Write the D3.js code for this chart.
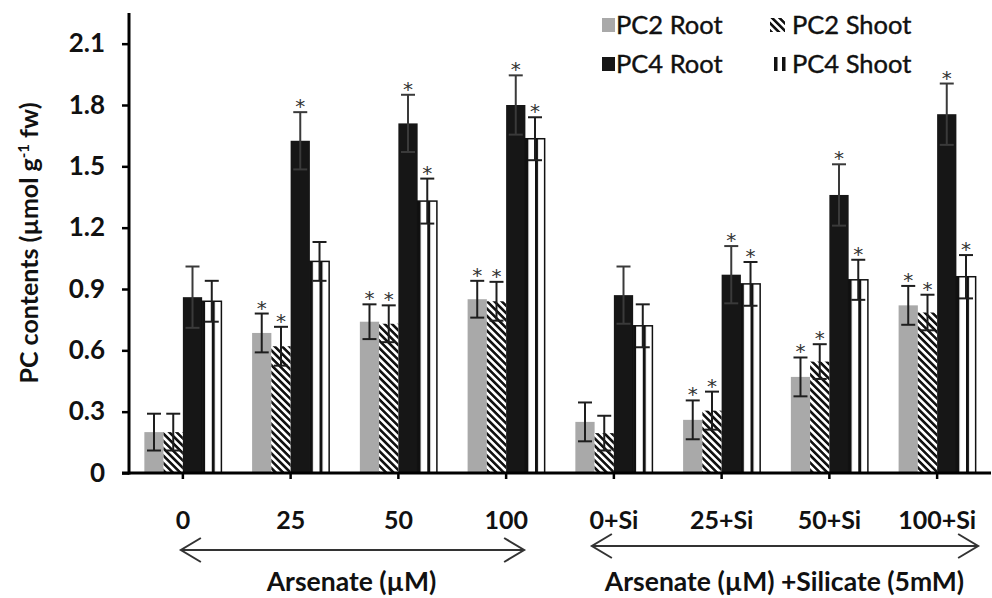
<!DOCTYPE html>
<html>
<head>
<meta charset="utf-8">
<script src="https://cdn.jsdelivr.net/npm/d3@7"></script>
<style>
  body { margin: 0; background: #fff; }
  svg { display: block; font-family: Lato, "Open Sans", sans-serif; }
</style>
</head>
<body>
<script>
// categories and series
const categories = ["0", "25", "50", "100", "0+Si", "25+Si", "50+Si", "100+Si"];
const series = ["PC2 Root", "PC2 Shoot", "PC4 Root", "PC4 Shoot"];

// mean values
const pc2Root  = [0.20, 0.685, 0.74, 0.85, 0.25, 0.26, 0.47, 0.82];
const pc2Shoot = [0.20, 0.62, 0.73, 0.84, 0.195, 0.305, 0.545, 0.785];
const pc4Root  = [0.86, 1.625, 1.71, 1.80, 0.87, 0.97, 1.36, 1.755];
const pc4Shoot = [0.84, 1.035, 1.33, 1.635, 0.72, 0.925, 0.945, 0.96];

// error bar half widths
const pc2RootErr  = [0.09, 0.095, 0.085, 0.09, 0.095, 0.095, 0.095, 0.095];
const pc2ShootErr = [0.09, 0.095, 0.09, 0.095, 0.085, 0.093, 0.085, 0.087];
const pc4RootErr  = [0.15, 0.14, 0.14, 0.145, 0.14, 0.14, 0.15, 0.15];
const pc4ShootErr = [0.10, 0.095, 0.11, 0.105, 0.105, 0.107, 0.098, 0.106];

// significance stars (1 = star)
const pc2RootStar  = [0, 1, 1, 1, 0, 1, 1, 1];
const pc2ShootStar = [0, 1, 1, 1, 0, 1, 1, 1];
const pc4RootStar  = [0, 1, 1, 1, 0, 1, 1, 1];
const pc4ShootStar = [0, 0, 1, 1, 0, 1, 1, 1];

const yTicks = [0, 0.3, 0.6, 0.9, 1.2, 1.5, 1.8, 2.1];

const means = [pc2Root, pc2Shoot, pc4Root, pc4Shoot];
const errs = [pc2RootErr, pc2ShootErr, pc4RootErr, pc4ShootErr];
const stars = [pc2RootStar, pc2ShootStar, pc4RootStar, pc4ShootStar];

const width = 992, height = 598;
const plotLeft = 129, plotRight = 991, plotTop = 13, plotBottom = 473;

const svg = d3.select("body").append("svg")
    .attr("width", width)
    .attr("height", height);

const defs = svg.append("defs");

// PC2 shoot: diagonal hatch
const hatch = defs.append("pattern")
    .attr("id", "hatch")
    .attr("patternUnits", "userSpaceOnUse")
    .attr("width", 5.2).attr("height", 5.2)
    .attr("patternTransform", "rotate(-45)");
hatch.append("rect").attr("width", 5.2).attr("height", 5.2).attr("fill", "#fff");
hatch.append("rect").attr("width", 2.6).attr("height", 5.2).attr("fill", "#111");

// PC4 shoot: wide vertical stripes
const vstripe = defs.append("pattern")
    .attr("id", "vstripe")
    .attr("patternUnits", "objectBoundingBox")
    .attr("width", 0.5).attr("height", 1);
vstripe.append("rect").attr("width", 40).attr("height", 1000).attr("fill", "#fff");
vstripe.append("rect").attr("width", 3).attr("height", 1000).attr("fill", "#111");

const fills = ["#a9a9a9", "url(#hatch)", "#161616", "url(#vstripe)"];

const x = d3.scaleBand()
    .domain(categories)
    .range([plotLeft, plotRight])
    .paddingInner(0.285)
    .paddingOuter(0.1425);

const x1 = d3.scaleBand()
    .domain(series)
    .range([0, x.bandwidth()]);

const y = d3.scaleLinear()
    .domain([0, 2.25])
    .range([plotBottom, plotTop]);

// bars
const rows = [];
categories.forEach((c, i) => {
    series.forEach((s, j) => {
        rows.push({ cat: c, ser: s, j: j, v: means[j][i], e: errs[j][i], star: stars[j][i] });
    });
});

const g = svg.append("g");

g.selectAll("rect.bar")
    .data(rows)
    .enter().append("rect")
    .attr("class", "bar")
    .attr("x", d => x(d.cat) + x1(d.ser))
    .attr("y", d => y(d.v))
    .attr("width", x1.bandwidth())
    .attr("height", d => y(0) - y(d.v))
    .attr("fill", d => fills[d.j])
    .attr("stroke", d => d.j === 3 ? "#111" : "none")
    .attr("stroke-width", 1.5);

// error bars
const capW = 14;
const eb = g.selectAll("g.err")
    .data(rows)
    .enter().append("g")
    .attr("class", "err")
    .attr("stroke", d => d.j === 2 ? "#3a3a3a" : "#1e1e1e")
    .attr("stroke-width", 2)
    .attr("transform", d => `translate(${x(d.cat) + x1(d.ser) + x1.bandwidth() / 2},0)`);

eb.append("line")
    .attr("y1", d => y(d.v - d.e))
    .attr("y2", d => y(d.v + d.e));
eb.append("line")
    .attr("x1", -capW / 2).attr("x2", capW / 2)
    .attr("y1", d => y(d.v + d.e)).attr("y2", d => y(d.v + d.e));
eb.append("line")
    .attr("x1", -capW / 2).attr("x2", capW / 2)
    .attr("y1", d => y(d.v - d.e)).attr("y2", d => y(d.v - d.e));

// stars
g.selectAll("text.star")
    .data(rows.filter(d => d.star))
    .enter().append("text")
    .attr("class", "star")
    .attr("x", d => x(d.cat) + x1(d.ser) + x1.bandwidth() / 2)
    .attr("y", d => y(d.v + d.e) + 1)
    .attr("text-anchor", "middle")
    .attr("font-family", "DejaVu Sans, sans-serif")
    .attr("font-size", 20)
    .attr("fill", "#333")
    .text("*");

// y axis
const yAxis = svg.append("g")
    .attr("transform", `translate(${plotLeft},0)`)
    .call(d3.axisLeft(y).tickValues(yTicks).tickSize(7)
        .tickFormat(d => d === 0 ? "0" : d.toFixed(1)));
yAxis.select(".domain").remove();
yAxis.append("line")
    .attr("y1", plotTop).attr("y2", plotBottom + 1.5)
    .attr("stroke", "#000").attr("stroke-width", 3);
yAxis.selectAll(".tick line").attr("stroke", "#000").attr("stroke-width", 2.5);
yAxis.selectAll(".tick text")
    .attr("x", -24)
    .attr("font-family", "Lato, sans-serif")
    .attr("font-weight", "bold")
    .attr("font-size", 26)
    .attr("fill", "#111");

// x axis
const xAxis = svg.append("g")
    .attr("transform", `translate(0,${plotBottom})`)
    .call(d3.axisBottom(x).tickSize(6).tickPadding(32));
xAxis.select(".domain").remove();
xAxis.append("line")
    .attr("x1", plotLeft - 7).attr("x2", plotRight)
    .attr("stroke", "#000").attr("stroke-width", 3);
xAxis.selectAll(".tick line").attr("stroke", "#000").attr("stroke-width", 2.5);
xAxis.selectAll(".tick text")
    .attr("font-family", "Lato, sans-serif")
    .attr("font-weight", "bold")
    .attr("font-size", 25)
    .attr("fill", "#111");

// y title
svg.append("text")
    .attr("transform", `translate(38,243) rotate(-90)`)
    .attr("text-anchor", "middle")
    .attr("font-weight", "bold")
    .attr("font-size", 25)
    .attr("fill", "#111")
    .call(t => {
        t.append("tspan").text("PC contents (µmol g");
        t.append("tspan").attr("font-size", 15).attr("dy", -9).text("-1");
        t.append("tspan").attr("dy", 9).text(" fw)");
    });

// group arrows and labels
function arrow(x0, x1, yy) {
    const a = svg.append("g").attr("stroke", "#333").attr("stroke-width", 2).attr("fill", "none");
    a.append("line").attr("x1", x0).attr("x2", x1).attr("y1", yy).attr("y2", yy);
    a.append("path").attr("d", `M${x0 + 20},${yy - 12}L${x0},${yy}L${x0 + 20},${yy + 12}`);
    a.append("path").attr("d", `M${x1 - 20},${yy - 12}L${x1},${yy}L${x1 - 20},${yy + 12}`);
}
const c = k => x(categories[k]) + x.bandwidth() / 2;
arrow(c(0) - 2, c(3) + 18, 550);
arrow(c(4) - 22, c(7) + 41, 546);

svg.append("text")
    .attr("x", (c(0) + c(3)) / 2 + 7).attr("y", 591)
    .attr("text-anchor", "middle")
    .attr("font-weight", "bold").attr("font-size", 26.5).attr("fill", "#111")
    .text("Arsenate (µM)");
svg.append("text")
    .attr("x", (c(4) + c(7)) / 2 + 9).attr("y", 591)
    .attr("text-anchor", "middle")
    .attr("font-weight", "bold").attr("font-size", 26.5).attr("fill", "#111")
    .text("Arsenate (µM) +Silicate (5mM)");

// legend
const legendPos = [[602, 25], [770, 25], [602, 64], [770, 64]];
const leg = svg.append("g");
series.forEach((s, j) => {
    const [lx, ly] = legendPos[j];
    const item = leg.append("g").attr("transform", `translate(${lx},${ly})`);
    if (j === 0 || j === 2) {
        item.append("rect").attr("x", 0).attr("y", -7).attr("width", 13).attr("height", 14)
            .attr("fill", fills[j]);
    } else if (j === 1) {
        item.append("rect").attr("x", 0).attr("y", -7).attr("width", 15).attr("height", 14)
            .attr("fill", "url(#hatch)");
    } else {
        item.append("rect").attr("x", 4).attr("y", -7).attr("width", 3.5).attr("height", 14).attr("fill", "#111");
        item.append("rect").attr("x", 12).attr("y", -7).attr("width", 3.5).attr("height", 14).attr("fill", "#111");
    }
    item.append("text")
        .attr("x", j % 2 === 0 ? 14 : 22)
        .attr("y", 9)
        .attr("font-size", 25.5)
        .attr("fill", "#111")
        .attr("stroke", "#111")
        .attr("stroke-width", 0.4)
        .text(s);
});
</script>
</body>
</html>
